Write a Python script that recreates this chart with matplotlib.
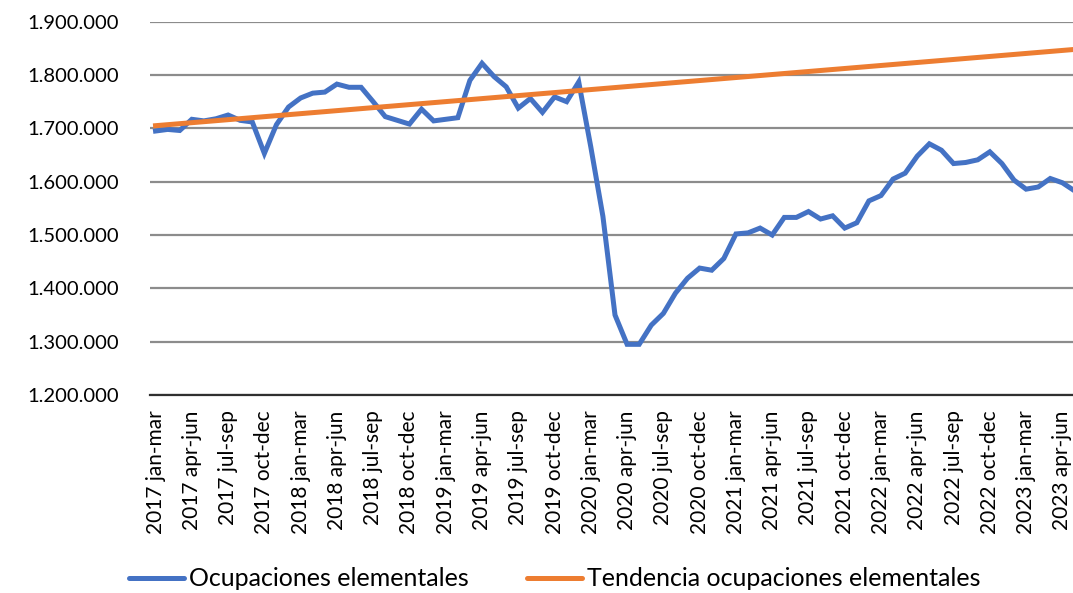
import numpy as np
import matplotlib
matplotlib.use('Agg')
import matplotlib.pyplot as plt
from matplotlib.ticker import FuncFormatter
from matplotlib.lines import Line2D

plt.rcParams['font.family'] = ['Lato', 'DejaVu Sans']

# Rolling quarters, monthly from 2017 jan-mar to 2023 may-jul
ocupaciones = [
    1695000, 1698000, 1696000, 1717000, 1714000, 1718000, 1725000, 1715000,
    1712000, 1653000, 1707000, 1740000, 1757000, 1766000, 1768000, 1783000,
    1777000, 1777000, 1750000, 1722000, 1715000, 1708000, 1736000, 1714000,
    1717000, 1720000, 1790000, 1822000, 1797000, 1778000, 1738000, 1756000,
    1730000, 1759000, 1750000, 1787000, 1665000, 1535000, 1350000, 1295000,
    1295000, 1331000, 1353000, 1391000, 1419000, 1438000, 1434000, 1456000,
    1502000, 1504000, 1513000, 1500000, 1533000, 1533000, 1544000, 1530000,
    1536000, 1513000, 1523000, 1564000, 1574000, 1605000, 1616000, 1648000,
    1671000, 1659000, 1634000, 1636000, 1641000, 1656000, 1634000, 1603000,
    1586000, 1590000, 1606000, 1598000, 1583000,
]
# linear trend, start and end of the series
tendencia_idx = [0, 76]
tendencia = [1705000, 1848000]

tick_labels = [
    '2017 jan-mar', '2017 apr-jun', '2017 jul-sep', '2017 oct-dec',
    '2018 jan-mar', '2018 apr-jun', '2018 jul-sep', '2018 oct-dec',
    '2019 jan-mar', '2019 apr-jun', '2019 jul-sep', '2019 oct-dec',
    '2020 jan-mar', '2020 apr-jun', '2020 jul-sep', '2020 oct-dec',
    '2021 jan-mar', '2021 apr-jun', '2021 jul-sep', '2021 oct-dec',
    '2022 jan-mar', '2022 apr-jun', '2022 jul-sep', '2022 oct-dec',
    '2023 jan-mar', '2023 apr-jun',
]

blue = '#4472C4'
orange = '#ED7D31'

fig = plt.figure(figsize=(10.73, 5.93), dpi=100)
ax = fig.add_axes([149.5 / 1073, 198 / 593, 931 / 1073, 373.3 / 593])

x = np.arange(len(ocupaciones))
ax.plot(x, ocupaciones, color=blue, lw=3.6, solid_joinstyle='miter', zorder=3)
ax.plot(tendencia_idx, tendencia, color=orange, lw=3.6, zorder=4)

ax.set_xlim(-0.5, len(ocupaciones) - 0.5)
ax.set_ylim(1200000, 1900000)
ax.set_yticks(np.arange(1200000, 1900001, 100000))
ax.yaxis.set_major_formatter(FuncFormatter(lambda v, p: f'{v:,.0f}'.replace(',', '.')))
ax.set_xticks(np.arange(0, len(tick_labels) * 3, 3))
ax.set_xticklabels(tick_labels, rotation=90, va='top', ha='center')

ax.grid(axis='y', color='#8c8c8c', lw=1.6)
ax.set_axisbelow(True)
for s in ['top', 'right', 'left']:
    ax.spines[s].set_visible(False)
ax.spines['bottom'].set_color('#303030')
ax.spines['bottom'].set_linewidth(1.6)
ax.spines['bottom'].set_zorder(2)
ax.tick_params(axis='both', length=0, colors='black')
ax.tick_params(axis='y', pad=22, labelsize=14.5)
ax.tick_params(axis='x', pad=11, labelsize=15)

handles = [Line2D([], [], color=blue, lw=3.6, solid_capstyle='round'),
           Line2D([], [], color=orange, lw=3.6, solid_capstyle='round')]
fig.legend(handles, ['Ocupaciones elementales', 'Tendencia ocupaciones elementales'],
           loc='center', bbox_to_anchor=(0.517, 1 - 579 / 593), ncol=2,
           frameon=False, fontsize=18, handlelength=2.2, handletextpad=0.2,
           columnspacing=2.3)

fig.savefig('out.png', dpi=100)
